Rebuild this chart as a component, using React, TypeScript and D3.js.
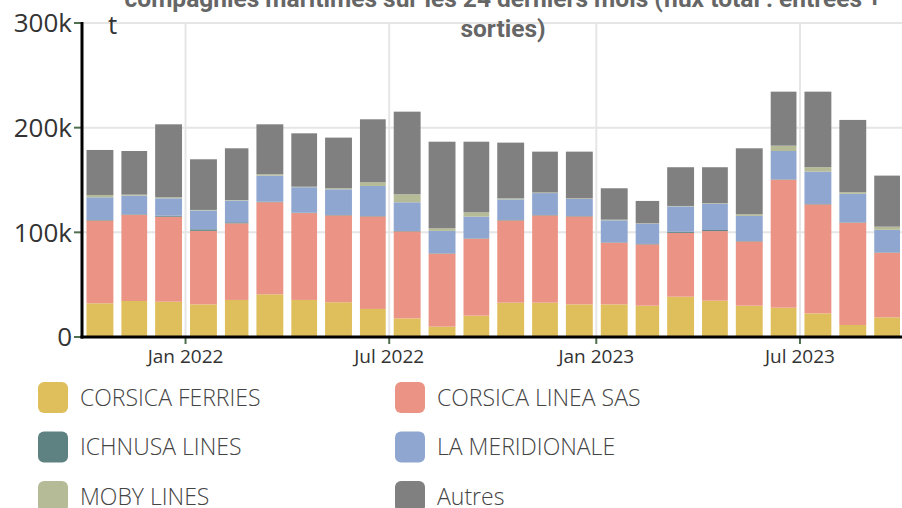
import React from "react";
import * as d3 from "d3";

const months = [
  "2021-10", "2021-11", "2021-12", "2022-01", "2022-02", "2022-03",
  "2022-04", "2022-05", "2022-06", "2022-07", "2022-08", "2022-09",
  "2022-10", "2022-11", "2022-12", "2023-01", "2023-02", "2023-03",
  "2023-04", "2023-05", "2023-06", "2023-07", "2023-08", "2023-09",
];

const corsicaFerries = [32200, 34400, 33700, 31200, 35400, 40800, 35400, 33200, 26800, 17800, 9900, 20400, 32800, 32800, 31200, 31200, 29900, 38500, 34700, 29900, 28000, 22600, 11500, 18800];
const corsicaLinea = [79100, 82300, 81200, 70200, 73200, 88000, 83000, 83000, 88400, 83100, 69700, 73500, 78600, 83400, 84000, 58900, 58600, 61000, 66500, 61400, 122300, 104100, 97700, 61700];
const ichnusa = [500, 500, 1000, 1500, 1000, 500, 400, 400, 400, 400, 400, 400, 400, 400, 400, 400, 400, 1100, 1000, 400, 400, 400, 400, 400];
const meridionale = [21700, 17800, 16600, 18000, 20800, 24900, 24300, 24500, 28700, 27400, 21400, 20700, 19700, 20900, 16400, 21000, 19400, 24200, 25100, 24000, 27000, 30900, 27200, 21500];
const moby = [2200, 1000, 1000, 500, 500, 1300, 500, 1000, 3500, 7700, 2500, 4100, 1000, 600, 500, 600, 300, 400, 500, 1500, 5100, 4200, 1500, 3000];
const autres = [43000, 41700, 69700, 48400, 49400, 47700, 51000, 48400, 60200, 78900, 82700, 67500, 53200, 39000, 44600, 30000, 21400, 37000, 34400, 63100, 51600, 72200, 69100, 48800];

const seriesNames = ["CORSICA FERRIES", "CORSICA LINEA SAS", "ICHNUSA LINES", "LA MERIDIONALE", "MOBY LINES", "Autres"];
const seriesColors = ["#dfbf5b", "#eb9485", "#5e8282", "#8fa6d0", "#b6bb97", "#808080"];
const seriesValues = [corsicaFerries, corsicaLinea, ichnusa, meridionale, moby, autres];

const yTicks = [0, 100000, 200000, 300000];
const yTickLabels = ["0", "100k", "200k", "300k"];
const xTickLabels = ["Jan 2022", "Jul 2022", "Jan 2023", "Jul 2023"];
const xTickDates = ["2022-01", "2022-07", "2023-01", "2023-07"];

const titleLines = [
  "compagnies maritimes sur les 24 derniers mois (flux total : entrées +",
  "sorties)",
];

const W = 902;
const H = 508;
const parse = d3.timeParse("%Y-%m");

export default function App() {
  const left = 82;
  const bottom = 337;
  const x = d3
    .scaleTime()
    .domain([parse("2021-10")!, parse("2023-10")!])
    .range([left, 903.5]);
  const y = d3.scaleLinear().domain([0, 300000]).range([bottom, 23]);

  const rows = months.map((m, i) => {
    const r: any = { date: parse(m)! };
    seriesNames.forEach((s, k) => (r[s] = seriesValues[k][i]));
    return r;
  });
  const stacked = d3.stack<any>().keys(seriesNames)(rows);

  const gridColor = "#e6e6e6";
  const tickColor = "#4f6f4f";
  const font = "'Open Sans', sans-serif";

  return (
    <svg
      width={W}
      height={H}
      style={{ position: "absolute", left: 0, top: 0, background: "#fff" }}
      fontFamily={font}
    >
      {/* grid */}
      {yTicks.slice(1).map((t) => (
        <line key={"gy" + t} x1={left} x2={W} y1={y(t)} y2={y(t)} stroke={gridColor} strokeWidth={2} />
      ))}
      {xTickDates.map((d) => (
        <line key={"gx" + d} x1={x(parse(d)!)} x2={x(parse(d)!)} y1={y(300000)} y2={bottom} stroke={gridColor} strokeWidth={2} />
      ))}

      {/* bars */}
      {stacked.map((layer, k) => (
        <g key={layer.key} fill={seriesColors[k]}>
          {layer.map((seg, i) => {
            const d0 = rows[i].date as Date;
            const d1 = d3.timeMonth.offset(d0, 1);
            const x0 = x(d0) + 4.5;
            const x1 = x(d1) - 3.5;
            return (
              <rect
                key={i}
                x={x0}
                width={x1 - x0}
                y={y(seg[1])}
                height={Math.max(0, y(seg[0]) - y(seg[1]))}
              />
            );
          })}
        </g>
      ))}

      {/* title */}
      <g fontFamily="Roboto, sans-serif" fontWeight={700} fontSize={24.5} fill="#666" textAnchor="middle">
        {titleLines.map((t, i) => (
          <text key={i} x={503} y={7 + i * 30}>
            {t}
          </text>
        ))}
      </g>

      {/* y axis */}
      {yTicks.map((t, i) => (
        <g key={"yt" + t}>
          <line x1={left - 8} x2={left} y1={y(t)} y2={y(t)} stroke={tickColor} strokeWidth={2} />
          <text x={left - 10} y={y(t)} dy="0.36em" textAnchor="end" fontSize={26} fill="#333">
            {yTickLabels[i]}
          </text>
        </g>
      ))}
      <text x={108} y={34} fontSize={26} fill="#333">t</text>
      <line x1={left} x2={left} y1={y(300000) - 1} y2={bottom + 1.5} stroke="#000" strokeWidth={3} />

      {/* x axis */}
      {xTickDates.map((d, i) => (
        <g key={"xt" + d}>
          <line x1={x(parse(d)!)} x2={x(parse(d)!)} y1={bottom} y2={bottom + 7} stroke={tickColor} strokeWidth={2} />
          <text x={x(parse(d)!)} y={bottom + 26} textAnchor="middle" fontSize={19} fill="#333">
            {xTickLabels[i]}
          </text>
        </g>
      ))}
      <line x1={left - 1.5} x2={W} y1={bottom} y2={bottom} stroke="#000" strokeWidth={3} />

      {/* legend */}
      {seriesNames.map((s, k) => {
        const col = k % 2;
        const row = Math.floor(k / 2);
        const lx = col === 0 ? 38 : 395;
        const ly = 382 + row * 49.5;
        return (
          <g key={"lg" + s}>
            <rect x={lx} y={ly} width={30} height={31} rx={6} fill={seriesColors[k]} />
            <text x={lx + 42} y={ly + 15.5} dy="0.36em" fontSize={23} fill="#444" fontWeight={300}>
              {s}
            </text>
          </g>
        );
      })}
    </svg>
  );
}
